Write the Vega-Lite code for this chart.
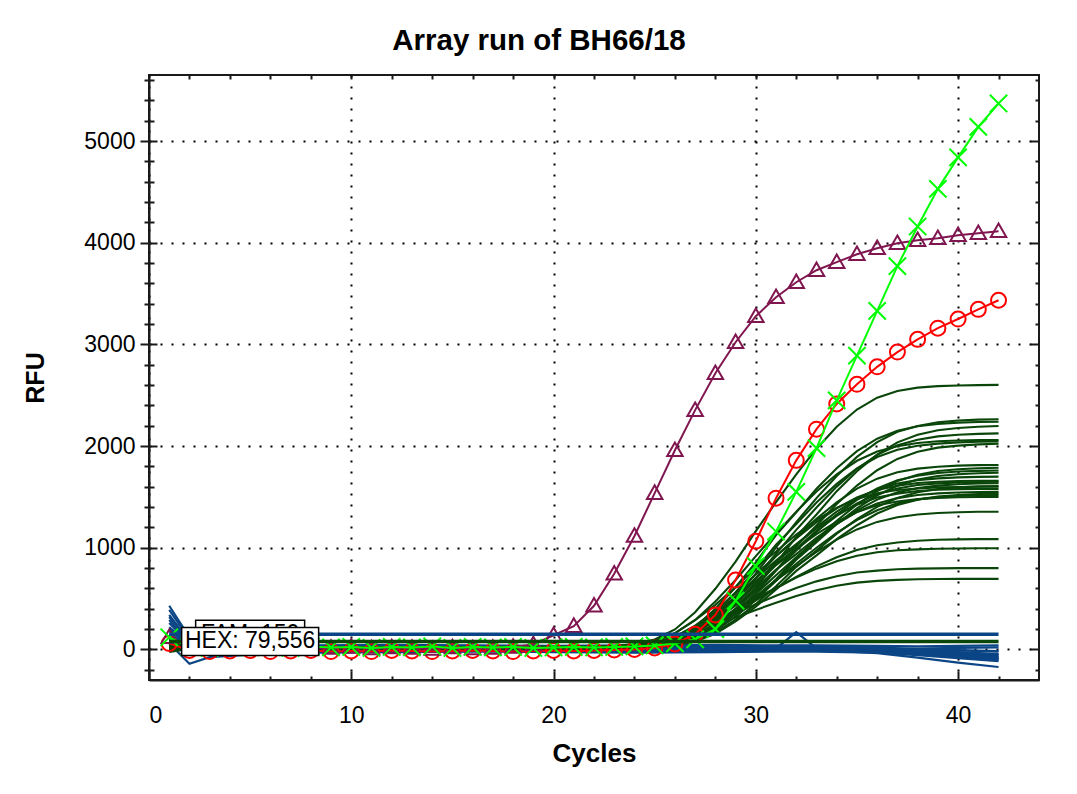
{
"$schema": "https://vega.github.io/schema/vega-lite/v6.json",
"width": 890, "height": 605,
"autosize": {"type": "none"},
"padding": {"left": 149, "top": 75, "right": 38, "bottom": 114},
"background": "white",
"title": {"text": "Array run of BH66/18", "font": "Liberation Sans", "fontSize": 29.5, "fontWeight": "bold", "color": "black", "anchor": "middle", "dx": -55, "offset": 18},
"config": {
  "font": "Liberation Sans",
  "view": {"stroke": "#1a1a1a", "strokeWidth": 2},
  "axis": {"labelFont": "Liberation Sans", "titleFont": "Liberation Sans", "labelColor": "black", "titleColor": "black", "tickColor": "#1a1a1a", "domainColor": "#1a1a1a", "tickWidth": 2, "domainWidth": 2, "grid": false}
},
"datasets": {
"blue": [
{"s":"b1","c":1,"v":430},{"s":"b1","c":2,"v":120},{"s":"b1","c":3,"v":30},{"s":"b1","c":5,"v":10},{"s":"b1","c":8,"v":5},{"s":"b1","c":12,"v":0},{"s":"b1","c":16,"v":5},{"s":"b1","c":20,"v":10},{"s":"b1","c":24,"v":5},{"s":"b1","c":28,"v":0},{"s":"b1","c":31,"v":5},{"s":"b1","c":32,"v":5},{"s":"b1","c":33,"v":5},{"s":"b1","c":36,"v":0},{"s":"b1","c":38,"v":-20},{"s":"b1","c":40,"v":-40},{"s":"b1","c":42,"v":-60},
{"s":"b2","c":1,"v":390},{"s":"b2","c":2,"v":100},{"s":"b2","c":3,"v":20},{"s":"b2","c":5,"v":5},{"s":"b2","c":8,"v":0},{"s":"b2","c":12,"v":5},{"s":"b2","c":16,"v":10},{"s":"b2","c":20,"v":5},{"s":"b2","c":24,"v":0},{"s":"b2","c":28,"v":5},{"s":"b2","c":31,"v":10},{"s":"b2","c":32,"v":170},{"s":"b2","c":33,"v":10},{"s":"b2","c":36,"v":5},{"s":"b2","c":38,"v":-10},{"s":"b2","c":40,"v":-30},{"s":"b2","c":42,"v":-50},
{"s":"b3","c":1,"v":340},{"s":"b3","c":2,"v":80},{"s":"b3","c":3,"v":15},{"s":"b3","c":5,"v":0},{"s":"b3","c":8,"v":-5},{"s":"b3","c":12,"v":0},{"s":"b3","c":16,"v":5},{"s":"b3","c":20,"v":0},{"s":"b3","c":24,"v":-5},{"s":"b3","c":28,"v":0},{"s":"b3","c":31,"v":0},{"s":"b3","c":32,"v":0},{"s":"b3","c":33,"v":0},{"s":"b3","c":36,"v":-10},{"s":"b3","c":38,"v":-40},{"s":"b3","c":40,"v":-70},{"s":"b3","c":42,"v":-100},
{"s":"b4","c":1,"v":290},{"s":"b4","c":2,"v":70},{"s":"b4","c":3,"v":10},{"s":"b4","c":5,"v":-5},{"s":"b4","c":8,"v":-10},{"s":"b4","c":12,"v":-5},{"s":"b4","c":16,"v":0},{"s":"b4","c":20,"v":-5},{"s":"b4","c":24,"v":-10},{"s":"b4","c":28,"v":-5},{"s":"b4","c":31,"v":-5},{"s":"b4","c":32,"v":-5},{"s":"b4","c":33,"v":-5},{"s":"b4","c":36,"v":-35},{"s":"b4","c":38,"v":-80},{"s":"b4","c":40,"v":-130},{"s":"b4","c":42,"v":-172},
{"s":"b5","c":1,"v":260},{"s":"b5","c":2,"v":60},{"s":"b5","c":3,"v":5},{"s":"b5","c":5,"v":0},{"s":"b5","c":8,"v":5},{"s":"b5","c":12,"v":10},{"s":"b5","c":16,"v":15},{"s":"b5","c":20,"v":10},{"s":"b5","c":24,"v":5},{"s":"b5","c":28,"v":10},{"s":"b5","c":31,"v":15},{"s":"b5","c":32,"v":15},{"s":"b5","c":33,"v":15},{"s":"b5","c":36,"v":10},{"s":"b5","c":38,"v":0},{"s":"b5","c":40,"v":-10},{"s":"b5","c":42,"v":-20},
{"s":"b6","c":1,"v":220},{"s":"b6","c":2,"v":50},{"s":"b6","c":3,"v":0},{"s":"b6","c":5,"v":-10},{"s":"b6","c":8,"v":-5},{"s":"b6","c":12,"v":0},{"s":"b6","c":16,"v":0},{"s":"b6","c":20,"v":5},{"s":"b6","c":24,"v":0},{"s":"b6","c":28,"v":-5},{"s":"b6","c":31,"v":0},{"s":"b6","c":32,"v":0},{"s":"b6","c":33,"v":0},{"s":"b6","c":36,"v":-5},{"s":"b6","c":38,"v":-20},{"s":"b6","c":40,"v":-45},{"s":"b6","c":42,"v":-80},
{"s":"b7","c":1,"v":180},{"s":"b7","c":2,"v":40},{"s":"b7","c":3,"v":-10},{"s":"b7","c":5,"v":-20},{"s":"b7","c":8,"v":-15},{"s":"b7","c":12,"v":-10},{"s":"b7","c":16,"v":-5},{"s":"b7","c":20,"v":-10},{"s":"b7","c":24,"v":-15},{"s":"b7","c":28,"v":-10},{"s":"b7","c":31,"v":-5},{"s":"b7","c":32,"v":-5},{"s":"b7","c":33,"v":-5},{"s":"b7","c":36,"v":-20},{"s":"b7","c":38,"v":-40},{"s":"b7","c":40,"v":-60},{"s":"b7","c":42,"v":-90},
{"s":"b8","c":1,"v":150},{"s":"b8","c":2,"v":30},{"s":"b8","c":3,"v":20},{"s":"b8","c":5,"v":15},{"s":"b8","c":8,"v":20},{"s":"b8","c":12,"v":25},{"s":"b8","c":16,"v":30},{"s":"b8","c":20,"v":25},{"s":"b8","c":24,"v":20},{"s":"b8","c":28,"v":25},{"s":"b8","c":31,"v":30},{"s":"b8","c":32,"v":30},{"s":"b8","c":33,"v":30},{"s":"b8","c":36,"v":20},{"s":"b8","c":38,"v":5},{"s":"b8","c":40,"v":-5},{"s":"b8","c":42,"v":-15},
{"s":"b9","c":1,"v":120},{"s":"b9","c":2,"v":25},{"s":"b9","c":3,"v":10},{"s":"b9","c":5,"v":5},{"s":"b9","c":8,"v":0},{"s":"b9","c":12,"v":-5},{"s":"b9","c":16,"v":0},{"s":"b9","c":20,"v":5},{"s":"b9","c":24,"v":10},{"s":"b9","c":28,"v":5},{"s":"b9","c":31,"v":0},{"s":"b9","c":32,"v":0},{"s":"b9","c":33,"v":0},{"s":"b9","c":36,"v":5},{"s":"b9","c":38,"v":10},{"s":"b9","c":40,"v":15},{"s":"b9","c":42,"v":20},
{"s":"b10","c":1,"v":90},{"s":"b10","c":2,"v":20},{"s":"b10","c":3,"v":40},{"s":"b10","c":5,"v":35},{"s":"b10","c":8,"v":40},{"s":"b10","c":12,"v":45},{"s":"b10","c":16,"v":40},{"s":"b10","c":20,"v":35},{"s":"b10","c":24,"v":40},{"s":"b10","c":28,"v":45},{"s":"b10","c":31,"v":40},{"s":"b10","c":32,"v":40},{"s":"b10","c":33,"v":40},{"s":"b10","c":36,"v":35},{"s":"b10","c":38,"v":30},{"s":"b10","c":40,"v":35},{"s":"b10","c":42,"v":40},
{"s":"b11","c":1,"v":60},{"s":"b11","c":2,"v":-140},{"s":"b11","c":3,"v":-75},{"s":"b11","c":5,"v":-50},{"s":"b11","c":8,"v":-25},{"s":"b11","c":12,"v":-20},{"s":"b11","c":16,"v":-15},{"s":"b11","c":20,"v":-20},{"s":"b11","c":24,"v":-25},{"s":"b11","c":28,"v":-20},{"s":"b11","c":31,"v":-15},{"s":"b11","c":32,"v":-15},{"s":"b11","c":33,"v":-15},{"s":"b11","c":36,"v":-25},{"s":"b11","c":38,"v":-45},{"s":"b11","c":40,"v":-70},{"s":"b11","c":42,"v":-95},
{"s":"b12","c":1,"v":100},{"s":"b12","c":2,"v":15},{"s":"b12","c":3,"v":25},{"s":"b12","c":5,"v":20},{"s":"b12","c":8,"v":25},{"s":"b12","c":12,"v":20},{"s":"b12","c":16,"v":15},{"s":"b12","c":20,"v":20},{"s":"b12","c":24,"v":25},{"s":"b12","c":28,"v":20},{"s":"b12","c":31,"v":15},{"s":"b12","c":32,"v":15},{"s":"b12","c":33,"v":15},{"s":"b12","c":36,"v":0},{"s":"b12","c":38,"v":-25},{"s":"b12","c":40,"v":-50},{"s":"b12","c":42,"v":-75},
{"s":"b13","c":1,"v":320},{"s":"b13","c":2,"v":90},{"s":"b13","c":3,"v":35},{"s":"b13","c":5,"v":25},{"s":"b13","c":8,"v":15},{"s":"b13","c":12,"v":10},{"s":"b13","c":16,"v":10},{"s":"b13","c":20,"v":15},{"s":"b13","c":24,"v":20},{"s":"b13","c":28,"v":15},{"s":"b13","c":31,"v":10},{"s":"b13","c":32,"v":10},{"s":"b13","c":33,"v":10},{"s":"b13","c":36,"v":5},{"s":"b13","c":38,"v":-5},{"s":"b13","c":40,"v":-25},{"s":"b13","c":42,"v":-45},
{"s":"b14","c":1,"v":200},{"s":"b14","c":2,"v":45},{"s":"b14","c":3,"v":-20},{"s":"b14","c":5,"v":-25},{"s":"b14","c":8,"v":-30},{"s":"b14","c":12,"v":-25},{"s":"b14","c":16,"v":-20},{"s":"b14","c":20,"v":-25},{"s":"b14","c":24,"v":-30},{"s":"b14","c":28,"v":-25},{"s":"b14","c":31,"v":-20},{"s":"b14","c":32,"v":-20},{"s":"b14","c":33,"v":-20},{"s":"b14","c":36,"v":-30},{"s":"b14","c":38,"v":-55},{"s":"b14","c":40,"v":-85},{"s":"b14","c":42,"v":-115}
],
"dkgreen": [
{"s":"d1","c":1,"v":60},{"s":"d1","c":2,"v":30},{"s":"d1","c":6,"v":20},{"s":"d1","c":12,"v":15},{"s":"d1","c":17,"v":20},{"s":"d1","c":22,"v":25},{"s":"d1","c":23,"v":33},{"s":"d1","c":24,"v":54},{"s":"d1","c":25,"v":98},{"s":"d1","c":26,"v":197},{"s":"d1","c":27,"v":366},{"s":"d1","c":28,"v":597},{"s":"d1","c":29,"v":865},{"s":"d1","c":30,"v":1164},{"s":"d1","c":31,"v":1450},{"s":"d1","c":32,"v":1723},{"s":"d1","c":33,"v":1975},{"s":"d1","c":34,"v":2191},{"s":"d1","c":35,"v":2360},{"s":"d1","c":36,"v":2477},{"s":"d1","c":37,"v":2542},{"s":"d1","c":38,"v":2575},{"s":"d1","c":39,"v":2590},{"s":"d1","c":40,"v":2596},{"s":"d1","c":41,"v":2600},{"s":"d1","c":42,"v":2602},
{"s":"d2","c":1,"v":85},{"s":"d2","c":2,"v":25},{"s":"d2","c":6,"v":15},{"s":"d2","c":12,"v":10},{"s":"d2","c":17,"v":15},{"s":"d2","c":22,"v":15},{"s":"d2","c":23,"v":20},{"s":"d2","c":24,"v":26},{"s":"d2","c":25,"v":44},{"s":"d2","c":26,"v":83},{"s":"d2","c":27,"v":168},{"s":"d2","c":28,"v":314},{"s":"d2","c":29,"v":515},{"s":"d2","c":30,"v":746},{"s":"d2","c":31,"v":1005},{"s":"d2","c":32,"v":1253},{"s":"d2","c":33,"v":1489},{"s":"d2","c":34,"v":1707},{"s":"d2","c":35,"v":1894},{"s":"d2","c":36,"v":2040},{"s":"d2","c":37,"v":2141},{"s":"d2","c":38,"v":2198},{"s":"d2","c":39,"v":2234},{"s":"d2","c":40,"v":2252},{"s":"d2","c":41,"v":2261},{"s":"d2","c":42,"v":2265},
{"s":"d3","c":1,"v":40},{"s":"d3","c":2,"v":15},{"s":"d3","c":6,"v":10},{"s":"d3","c":12,"v":5},{"s":"d3","c":17,"v":10},{"s":"d3","c":22,"v":10},{"s":"d3","c":23,"v":17},{"s":"d3","c":24,"v":28},{"s":"d3","c":25,"v":55},{"s":"d3","c":26,"v":110},{"s":"d3","c":27,"v":222},{"s":"d3","c":28,"v":400},{"s":"d3","c":29,"v":612},{"s":"d3","c":30,"v":857},{"s":"d3","c":31,"v":1125},{"s":"d3","c":32,"v":1348},{"s":"d3","c":33,"v":1582},{"s":"d3","c":34,"v":1783},{"s":"d3","c":35,"v":1950},{"s":"d3","c":36,"v":2073},{"s":"d3","c":37,"v":2151},{"s":"d3","c":38,"v":2195},{"s":"d3","c":39,"v":2218},{"s":"d3","c":40,"v":2231},{"s":"d3","c":41,"v":2238},{"s":"d3","c":42,"v":2240},
{"s":"d4","c":1,"v":20},{"s":"d4","c":2,"v":25},{"s":"d4","c":6,"v":20},{"s":"d4","c":12,"v":20},{"s":"d4","c":17,"v":20},{"s":"d4","c":22,"v":20},{"s":"d4","c":23,"v":20},{"s":"d4","c":24,"v":27},{"s":"d4","c":25,"v":37},{"s":"d4","c":26,"v":64},{"s":"d4","c":27,"v":118},{"s":"d4","c":28,"v":227},{"s":"d4","c":29,"v":402},{"s":"d4","c":30,"v":609},{"s":"d4","c":31,"v":848},{"s":"d4","c":32,"v":1110},{"s":"d4","c":33,"v":1328},{"s":"d4","c":34,"v":1557},{"s":"d4","c":35,"v":1753},{"s":"d4","c":36,"v":1917},{"s":"d4","c":37,"v":2037},{"s":"d4","c":38,"v":2113},{"s":"d4","c":39,"v":2156},{"s":"d4","c":40,"v":2178},{"s":"d4","c":41,"v":2191},{"s":"d4","c":42,"v":2198},
{"s":"d5","c":1,"v":-10},{"s":"d5","c":2,"v":20},{"s":"d5","c":6,"v":25},{"s":"d5","c":12,"v":20},{"s":"d5","c":17,"v":25},{"s":"d5","c":22,"v":15},{"s":"d5","c":23,"v":19},{"s":"d5","c":24,"v":26},{"s":"d5","c":25,"v":42},{"s":"d5","c":26,"v":78},{"s":"d5","c":27,"v":159},{"s":"d5","c":28,"v":296},{"s":"d5","c":29,"v":483},{"s":"d5","c":30,"v":701},{"s":"d5","c":31,"v":943},{"s":"d5","c":32,"v":1176},{"s":"d5","c":33,"v":1397},{"s":"d5","c":34,"v":1602},{"s":"d5","c":35,"v":1777},{"s":"d5","c":36,"v":1914},{"s":"d5","c":37,"v":2009},{"s":"d5","c":38,"v":2062},{"s":"d5","c":39,"v":2096},{"s":"d5","c":40,"v":2112},{"s":"d5","c":41,"v":2121},{"s":"d5","c":42,"v":2125},
{"s":"d6","c":1,"v":70},{"s":"d6","c":2,"v":25},{"s":"d6","c":6,"v":15},{"s":"d6","c":12,"v":10},{"s":"d6","c":17,"v":15},{"s":"d6","c":22,"v":15},{"s":"d6","c":23,"v":21},{"s":"d6","c":24,"v":31},{"s":"d6","c":25,"v":56},{"s":"d6","c":26,"v":106},{"s":"d6","c":27,"v":208},{"s":"d6","c":28,"v":370},{"s":"d6","c":29,"v":563},{"s":"d6","c":30,"v":786},{"s":"d6","c":31,"v":1030},{"s":"d6","c":32,"v":1233},{"s":"d6","c":33,"v":1446},{"s":"d6","c":34,"v":1629},{"s":"d6","c":35,"v":1781},{"s":"d6","c":36,"v":1893},{"s":"d6","c":37,"v":1964},{"s":"d6","c":38,"v":2004},{"s":"d6","c":39,"v":2025},{"s":"d6","c":40,"v":2037},{"s":"d6","c":41,"v":2043},{"s":"d6","c":42,"v":2045},
{"s":"d7","c":1,"v":30},{"s":"d7","c":2,"v":10},{"s":"d7","c":6,"v":10},{"s":"d7","c":12,"v":5},{"s":"d7","c":17,"v":10},{"s":"d7","c":22,"v":10},{"s":"d7","c":23,"v":10},{"s":"d7","c":24,"v":16},{"s":"d7","c":25,"v":26},{"s":"d7","c":26,"v":50},{"s":"d7","c":27,"v":101},{"s":"d7","c":28,"v":201},{"s":"d7","c":29,"v":363},{"s":"d7","c":30,"v":554},{"s":"d7","c":31,"v":776},{"s":"d7","c":32,"v":1018},{"s":"d7","c":33,"v":1219},{"s":"d7","c":34,"v":1431},{"s":"d7","c":35,"v":1612},{"s":"d7","c":36,"v":1763},{"s":"d7","c":37,"v":1874},{"s":"d7","c":38,"v":1944},{"s":"d7","c":39,"v":1985},{"s":"d7","c":40,"v":2005},{"s":"d7","c":41,"v":2017},{"s":"d7","c":42,"v":2023},
{"s":"d8","c":1,"v":90},{"s":"d8","c":2,"v":30},{"s":"d8","c":6,"v":20},{"s":"d8","c":12,"v":20},{"s":"d8","c":17,"v":20},{"s":"d8","c":22,"v":20},{"s":"d8","c":23,"v":25},{"s":"d8","c":24,"v":34},{"s":"d8","c":25,"v":56},{"s":"d8","c":26,"v":101},{"s":"d8","c":27,"v":191},{"s":"d8","c":28,"v":334},{"s":"d8","c":29,"v":505},{"s":"d8","c":30,"v":702},{"s":"d8","c":31,"v":918},{"s":"d8","c":32,"v":1097},{"s":"d8","c":33,"v":1286},{"s":"d8","c":34,"v":1447},{"s":"d8","c":35,"v":1582},{"s":"d8","c":36,"v":1680},{"s":"d8","c":37,"v":1743},{"s":"d8","c":38,"v":1779},{"s":"d8","c":39,"v":1797},{"s":"d8","c":40,"v":1808},{"s":"d8","c":41,"v":1813},{"s":"d8","c":42,"v":1815},
{"s":"d9","c":1,"v":50},{"s":"d9","c":2,"v":20},{"s":"d9","c":6,"v":15},{"s":"d9","c":12,"v":10},{"s":"d9","c":17,"v":15},{"s":"d9","c":22,"v":15},{"s":"d9","c":23,"v":15},{"s":"d9","c":24,"v":20},{"s":"d9","c":25,"v":29},{"s":"d9","c":26,"v":51},{"s":"d9","c":27,"v":95},{"s":"d9","c":28,"v":184},{"s":"d9","c":29,"v":326},{"s":"d9","c":30,"v":494},{"s":"d9","c":31,"v":690},{"s":"d9","c":32,"v":903},{"s":"d9","c":33,"v":1080},{"s":"d9","c":34,"v":1266},{"s":"d9","c":35,"v":1426},{"s":"d9","c":36,"v":1559},{"s":"d9","c":37,"v":1657},{"s":"d9","c":38,"v":1719},{"s":"d9","c":39,"v":1755},{"s":"d9","c":40,"v":1772},{"s":"d9","c":41,"v":1783},{"s":"d9","c":42,"v":1788},
{"s":"d10","c":1,"v":-25},{"s":"d10","c":2,"v":5},{"s":"d10","c":6,"v":10},{"s":"d10","c":12,"v":5},{"s":"d10","c":17,"v":10},{"s":"d10","c":22,"v":10},{"s":"d10","c":23,"v":14},{"s":"d10","c":24,"v":19},{"s":"d10","c":25,"v":33},{"s":"d10","c":26,"v":63},{"s":"d10","c":27,"v":129},{"s":"d10","c":28,"v":243},{"s":"d10","c":29,"v":399},{"s":"d10","c":30,"v":579},{"s":"d10","c":31,"v":780},{"s":"d10","c":32,"v":973},{"s":"d10","c":33,"v":1156},{"s":"d10","c":34,"v":1326},{"s":"d10","c":35,"v":1471},{"s":"d10","c":36,"v":1585},{"s":"d10","c":37,"v":1664},{"s":"d10","c":38,"v":1708},{"s":"d10","c":39,"v":1736},{"s":"d10","c":40,"v":1750},{"s":"d10","c":41,"v":1757},{"s":"d10","c":42,"v":1760},
{"s":"d11","c":1,"v":10},{"s":"d11","c":2,"v":30},{"s":"d11","c":6,"v":25},{"s":"d11","c":12,"v":25},{"s":"d11","c":17,"v":25},{"s":"d11","c":22,"v":25},{"s":"d11","c":23,"v":25},{"s":"d11","c":24,"v":30},{"s":"d11","c":25,"v":39},{"s":"d11","c":26,"v":59},{"s":"d11","c":27,"v":102},{"s":"d11","c":28,"v":188},{"s":"d11","c":29,"v":325},{"s":"d11","c":30,"v":488},{"s":"d11","c":31,"v":677},{"s":"d11","c":32,"v":883},{"s":"d11","c":33,"v":1054},{"s":"d11","c":34,"v":1234},{"s":"d11","c":35,"v":1388},{"s":"d11","c":36,"v":1517},{"s":"d11","c":37,"v":1611},{"s":"d11","c":38,"v":1671},{"s":"d11","c":39,"v":1706},{"s":"d11","c":40,"v":1723},{"s":"d11","c":41,"v":1733},{"s":"d11","c":42,"v":1738},
{"s":"d12","c":1,"v":65},{"s":"d12","c":2,"v":15},{"s":"d12","c":6,"v":10},{"s":"d12","c":12,"v":5},{"s":"d12","c":17,"v":10},{"s":"d12","c":22,"v":10},{"s":"d12","c":23,"v":15},{"s":"d12","c":24,"v":23},{"s":"d12","c":25,"v":43},{"s":"d12","c":26,"v":84},{"s":"d12","c":27,"v":166},{"s":"d12","c":28,"v":297},{"s":"d12","c":29,"v":453},{"s":"d12","c":30,"v":633},{"s":"d12","c":31,"v":830},{"s":"d12","c":32,"v":994},{"s":"d12","c":33,"v":1166},{"s":"d12","c":34,"v":1314},{"s":"d12","c":35,"v":1437},{"s":"d12","c":36,"v":1527},{"s":"d12","c":37,"v":1584},{"s":"d12","c":38,"v":1617},{"s":"d12","c":39,"v":1634},{"s":"d12","c":40,"v":1643},{"s":"d12","c":41,"v":1648},{"s":"d12","c":42,"v":1650},
{"s":"d13","c":1,"v":35},{"s":"d13","c":2,"v":25},{"s":"d13","c":6,"v":20},{"s":"d13","c":12,"v":15},{"s":"d13","c":17,"v":20},{"s":"d13","c":22,"v":20},{"s":"d13","c":23,"v":23},{"s":"d13","c":24,"v":28},{"s":"d13","c":25,"v":41},{"s":"d13","c":26,"v":68},{"s":"d13","c":27,"v":130},{"s":"d13","c":28,"v":235},{"s":"d13","c":29,"v":379},{"s":"d13","c":30,"v":545},{"s":"d13","c":31,"v":731},{"s":"d13","c":32,"v":908},{"s":"d13","c":33,"v":1078},{"s":"d13","c":34,"v":1234},{"s":"d13","c":35,"v":1368},{"s":"d13","c":36,"v":1474},{"s":"d13","c":37,"v":1546},{"s":"d13","c":38,"v":1587},{"s":"d13","c":39,"v":1612},{"s":"d13","c":40,"v":1625},{"s":"d13","c":41,"v":1632},{"s":"d13","c":42,"v":1635},
{"s":"d14","c":1,"v":80},{"s":"d14","c":2,"v":20},{"s":"d14","c":6,"v":15},{"s":"d14","c":12,"v":15},{"s":"d14","c":17,"v":15},{"s":"d14","c":22,"v":15},{"s":"d14","c":23,"v":15},{"s":"d14","c":24,"v":20},{"s":"d14","c":25,"v":28},{"s":"d14","c":26,"v":47},{"s":"d14","c":27,"v":87},{"s":"d14","c":28,"v":167},{"s":"d14","c":29,"v":294},{"s":"d14","c":30,"v":446},{"s":"d14","c":31,"v":621},{"s":"d14","c":32,"v":813},{"s":"d14","c":33,"v":972},{"s":"d14","c":34,"v":1139},{"s":"d14","c":35,"v":1283},{"s":"d14","c":36,"v":1403},{"s":"d14","c":37,"v":1490},{"s":"d14","c":38,"v":1546},{"s":"d14","c":39,"v":1578},{"s":"d14","c":40,"v":1594},{"s":"d14","c":41,"v":1604},{"s":"d14","c":42,"v":1608},
{"s":"d15","c":1,"v":45},{"s":"d15","c":2,"v":15},{"s":"d15","c":6,"v":10},{"s":"d15","c":12,"v":10},{"s":"d15","c":17,"v":10},{"s":"d15","c":22,"v":13},{"s":"d15","c":23,"v":18},{"s":"d15","c":24,"v":30},{"s":"d15","c":25,"v":57},{"s":"d15","c":26,"v":117},{"s":"d15","c":27,"v":219},{"s":"d15","c":28,"v":359},{"s":"d15","c":29,"v":520},{"s":"d15","c":30,"v":701},{"s":"d15","c":31,"v":874},{"s":"d15","c":32,"v":1038},{"s":"d15","c":33,"v":1191},{"s":"d15","c":34,"v":1321},{"s":"d15","c":35,"v":1423},{"s":"d15","c":36,"v":1494},{"s":"d15","c":37,"v":1533},{"s":"d15","c":38,"v":1558},{"s":"d15","c":39,"v":1571},{"s":"d15","c":40,"v":1577},{"s":"d15","c":41,"v":1580},{"s":"d15","c":42,"v":1580},
{"s":"d16","c":1,"v":0},{"s":"d16","c":2,"v":20},{"s":"d16","c":6,"v":20},{"s":"d16","c":12,"v":15},{"s":"d16","c":17,"v":20},{"s":"d16","c":22,"v":20},{"s":"d16","c":23,"v":25},{"s":"d16","c":24,"v":32},{"s":"d16","c":25,"v":51},{"s":"d16","c":26,"v":89},{"s":"d16","c":27,"v":165},{"s":"d16","c":28,"v":288},{"s":"d16","c":29,"v":433},{"s":"d16","c":30,"v":601},{"s":"d16","c":31,"v":785},{"s":"d16","c":32,"v":938},{"s":"d16","c":33,"v":1099},{"s":"d16","c":34,"v":1236},{"s":"d16","c":35,"v":1351},{"s":"d16","c":36,"v":1435},{"s":"d16","c":37,"v":1489},{"s":"d16","c":38,"v":1519},{"s":"d16","c":39,"v":1535},{"s":"d16","c":40,"v":1544},{"s":"d16","c":41,"v":1548},{"s":"d16","c":42,"v":1550},
{"s":"d17","c":1,"v":55},{"s":"d17","c":2,"v":15},{"s":"d17","c":6,"v":10},{"s":"d17","c":12,"v":5},{"s":"d17","c":17,"v":10},{"s":"d17","c":22,"v":10},{"s":"d17","c":23,"v":10},{"s":"d17","c":24,"v":15},{"s":"d17","c":25,"v":22},{"s":"d17","c":26,"v":41},{"s":"d17","c":27,"v":79},{"s":"d17","c":28,"v":155},{"s":"d17","c":29,"v":277},{"s":"d17","c":30,"v":422},{"s":"d17","c":31,"v":590},{"s":"d17","c":32,"v":773},{"s":"d17","c":33,"v":925},{"s":"d17","c":34,"v":1085},{"s":"d17","c":35,"v":1222},{"s":"d17","c":36,"v":1337},{"s":"d17","c":37,"v":1421},{"s":"d17","c":38,"v":1474},{"s":"d17","c":39,"v":1505},{"s":"d17","c":40,"v":1520},{"s":"d17","c":41,"v":1529},{"s":"d17","c":42,"v":1534},
{"s":"d18","c":1,"v":25},{"s":"d18","c":2,"v":20},{"s":"d18","c":6,"v":15},{"s":"d18","c":12,"v":10},{"s":"d18","c":17,"v":15},{"s":"d18","c":22,"v":15},{"s":"d18","c":23,"v":18},{"s":"d18","c":24,"v":23},{"s":"d18","c":25,"v":35},{"s":"d18","c":26,"v":60},{"s":"d18","c":27,"v":117},{"s":"d18","c":28,"v":215},{"s":"d18","c":29,"v":349},{"s":"d18","c":30,"v":504},{"s":"d18","c":31,"v":677},{"s":"d18","c":32,"v":843},{"s":"d18","c":33,"v":1001},{"s":"d18","c":34,"v":1147},{"s":"d18","c":35,"v":1272},{"s":"d18","c":36,"v":1370},{"s":"d18","c":37,"v":1437},{"s":"d18","c":38,"v":1475},{"s":"d18","c":39,"v":1499},{"s":"d18","c":40,"v":1511},{"s":"d18","c":41,"v":1517},{"s":"d18","c":42,"v":1520},
{"s":"d19","c":1,"v":75},{"s":"d19","c":2,"v":35},{"s":"d19","c":6,"v":25},{"s":"d19","c":12,"v":20},{"s":"d19","c":17,"v":25},{"s":"d19","c":22,"v":28},{"s":"d19","c":23,"v":32},{"s":"d19","c":24,"v":44},{"s":"d19","c":25,"v":69},{"s":"d19","c":26,"v":125},{"s":"d19","c":27,"v":221},{"s":"d19","c":28,"v":353},{"s":"d19","c":29,"v":504},{"s":"d19","c":30,"v":674},{"s":"d19","c":31,"v":836},{"s":"d19","c":32,"v":991},{"s":"d19","c":33,"v":1134},{"s":"d19","c":34,"v":1257},{"s":"d19","c":35,"v":1353},{"s":"d19","c":36,"v":1419},{"s":"d19","c":37,"v":1456},{"s":"d19","c":38,"v":1479},{"s":"d19","c":39,"v":1491},{"s":"d19","c":40,"v":1497},{"s":"d19","c":41,"v":1500},{"s":"d19","c":42,"v":1500},
{"s":"d20","c":1,"v":-5},{"s":"d20","c":2,"v":15},{"s":"d20","c":6,"v":15},{"s":"d20","c":12,"v":10},{"s":"d20","c":17,"v":15},{"s":"d20","c":22,"v":15},{"s":"d20","c":23,"v":19},{"s":"d20","c":24,"v":26},{"s":"d20","c":25,"v":42},{"s":"d20","c":26,"v":75},{"s":"d20","c":27,"v":142},{"s":"d20","c":28,"v":250},{"s":"d20","c":29,"v":377},{"s":"d20","c":30,"v":524},{"s":"d20","c":31,"v":685},{"s":"d20","c":32,"v":819},{"s":"d20","c":33,"v":960},{"s":"d20","c":34,"v":1080},{"s":"d20","c":35,"v":1181},{"s":"d20","c":36,"v":1255},{"s":"d20","c":37,"v":1301},{"s":"d20","c":38,"v":1328},{"s":"d20","c":39,"v":1342},{"s":"d20","c":40,"v":1350},{"s":"d20","c":41,"v":1354},{"s":"d20","c":42,"v":1355},
{"s":"d21","c":1,"v":15},{"s":"d21","c":2,"v":15},{"s":"d21","c":6,"v":10},{"s":"d21","c":12,"v":10},{"s":"d21","c":17,"v":10},{"s":"d21","c":22,"v":12},{"s":"d21","c":23,"v":15},{"s":"d21","c":24,"v":24},{"s":"d21","c":25,"v":42},{"s":"d21","c":26,"v":83},{"s":"d21","c":27,"v":153},{"s":"d21","c":28,"v":249},{"s":"d21","c":29,"v":359},{"s":"d21","c":30,"v":483},{"s":"d21","c":31,"v":601},{"s":"d21","c":32,"v":714},{"s":"d21","c":33,"v":818},{"s":"d21","c":34,"v":908},{"s":"d21","c":35,"v":978},{"s":"d21","c":36,"v":1026},{"s":"d21","c":37,"v":1053},{"s":"d21","c":38,"v":1070},{"s":"d21","c":39,"v":1079},{"s":"d21","c":40,"v":1083},{"s":"d21","c":41,"v":1085},{"s":"d21","c":42,"v":1085},
{"s":"d22","c":1,"v":95},{"s":"d22","c":2,"v":30},{"s":"d22","c":6,"v":20},{"s":"d22","c":12,"v":15},{"s":"d22","c":17,"v":20},{"s":"d22","c":22,"v":23},{"s":"d22","c":23,"v":28},{"s":"d22","c":24,"v":40},{"s":"d22","c":25,"v":64},{"s":"d22","c":26,"v":113},{"s":"d22","c":27,"v":191},{"s":"d22","c":28,"v":283},{"s":"d22","c":29,"v":391},{"s":"d22","c":30,"v":508},{"s":"d22","c":31,"v":605},{"s":"d22","c":32,"v":707},{"s":"d22","c":33,"v":795},{"s":"d22","c":34,"v":868},{"s":"d22","c":35,"v":922},{"s":"d22","c":36,"v":956},{"s":"d22","c":37,"v":976},{"s":"d22","c":38,"v":985},{"s":"d22","c":39,"v":991},{"s":"d22","c":40,"v":994},{"s":"d22","c":41,"v":995},{"s":"d22","c":42,"v":995},
{"s":"d23","c":1,"v":60},{"s":"d23","c":2,"v":15},{"s":"d23","c":6,"v":10},{"s":"d23","c":12,"v":5},{"s":"d23","c":17,"v":10},{"s":"d23","c":22,"v":14},{"s":"d23","c":23,"v":20},{"s":"d23","c":24,"v":34},{"s":"d23","c":25,"v":64},{"s":"d23","c":26,"v":115},{"s":"d23","c":27,"v":185},{"s":"d23","c":28,"v":267},{"s":"d23","c":29,"v":358},{"s":"d23","c":30,"v":445},{"s":"d23","c":31,"v":528},{"s":"d23","c":32,"v":604},{"s":"d23","c":33,"v":670},{"s":"d23","c":34,"v":721},{"s":"d23","c":35,"v":757},{"s":"d23","c":36,"v":776},{"s":"d23","c":37,"v":789},{"s":"d23","c":38,"v":795},{"s":"d23","c":39,"v":798},{"s":"d23","c":40,"v":800},{"s":"d23","c":41,"v":800},{"s":"d23","c":42,"v":800},
{"s":"d24","c":1,"v":40},{"s":"d24","c":2,"v":20},{"s":"d24","c":6,"v":15},{"s":"d24","c":12,"v":10},{"s":"d24","c":17,"v":15},{"s":"d24","c":22,"v":18},{"s":"d24","c":23,"v":24},{"s":"d24","c":24,"v":35},{"s":"d24","c":25,"v":61},{"s":"d24","c":26,"v":105},{"s":"d24","c":27,"v":166},{"s":"d24","c":28,"v":236},{"s":"d24","c":29,"v":314},{"s":"d24","c":30,"v":389},{"s":"d24","c":31,"v":460},{"s":"d24","c":32,"v":526},{"s":"d24","c":33,"v":583},{"s":"d24","c":34,"v":627},{"s":"d24","c":35,"v":658},{"s":"d24","c":36,"v":675},{"s":"d24","c":37,"v":685},{"s":"d24","c":38,"v":691},{"s":"d24","c":39,"v":694},{"s":"d24","c":40,"v":695},{"s":"d24","c":41,"v":695},{"s":"d24","c":42,"v":695},
{"s":"d25","c":1,"v":5},{"s":"d25","c":2,"v":20},{"s":"d25","c":6,"v":15},{"s":"d25","c":12,"v":15},{"s":"d25","c":17,"v":15},{"s":"d25","c":22,"v":18},{"s":"d25","c":23,"v":23},{"s":"d25","c":24,"v":36},{"s":"d25","c":25,"v":64},{"s":"d25","c":26,"v":127},{"s":"d25","c":27,"v":234},{"s":"d25","c":28,"v":380},{"s":"d25","c":29,"v":550},{"s":"d25","c":30,"v":739},{"s":"d25","c":31,"v":920},{"s":"d25","c":32,"v":1093},{"s":"d25","c":33,"v":1252},{"s":"d25","c":34,"v":1389},{"s":"d25","c":35,"v":1496},{"s":"d25","c":36,"v":1570},{"s":"d25","c":37,"v":1611},{"s":"d25","c":38,"v":1637},{"s":"d25","c":39,"v":1650},{"s":"d25","c":40,"v":1657},{"s":"d25","c":41,"v":1660},{"s":"d25","c":42,"v":1660},
{"s":"d26","c":1,"v":70},{"s":"d26","c":2,"v":15},{"s":"d26","c":6,"v":10},{"s":"d26","c":12,"v":5},{"s":"d26","c":17,"v":10},{"s":"d26","c":22,"v":15},{"s":"d26","c":23,"v":23},{"s":"d26","c":24,"v":42},{"s":"d26","c":25,"v":82},{"s":"d26","c":26,"v":161},{"s":"d26","c":27,"v":288},{"s":"d26","c":28,"v":439},{"s":"d26","c":29,"v":614},{"s":"d26","c":30,"v":805},{"s":"d26","c":31,"v":964},{"s":"d26","c":32,"v":1131},{"s":"d26","c":33,"v":1274},{"s":"d26","c":34,"v":1393},{"s":"d26","c":35,"v":1481},{"s":"d26","c":36,"v":1536},{"s":"d26","c":37,"v":1568},{"s":"d26","c":38,"v":1584},{"s":"d26","c":39,"v":1594},{"s":"d26","c":40,"v":1598},{"s":"d26","c":41,"v":1600},{"s":"d26","c":42,"v":1600},
{"s":"d27","c":1,"v":30},{"s":"d27","c":2,"v":25},{"s":"d27","c":6,"v":20},{"s":"d27","c":12,"v":15},{"s":"d27","c":17,"v":20},{"s":"d27","c":22,"v":24},{"s":"d27","c":23,"v":30},{"s":"d27","c":24,"v":47},{"s":"d27","c":25,"v":81},{"s":"d27","c":26,"v":159},{"s":"d27","c":27,"v":291},{"s":"d27","c":28,"v":473},{"s":"d27","c":29,"v":683},{"s":"d27","c":30,"v":918},{"s":"d27","c":31,"v":1142},{"s":"d27","c":32,"v":1356},{"s":"d27","c":33,"v":1554},{"s":"d27","c":34,"v":1723},{"s":"d27","c":35,"v":1856},{"s":"d27","c":36,"v":1948},{"s":"d27","c":37,"v":1999},{"s":"d27","c":38,"v":2031},{"s":"d27","c":39,"v":2048},{"s":"d27","c":40,"v":2056},{"s":"d27","c":41,"v":2060},{"s":"d27","c":42,"v":2060},
{"s":"d28","c":1,"v":50},{"s":"d28","c":2,"v":20},{"s":"d28","c":6,"v":15},{"s":"d28","c":12,"v":10},{"s":"d28","c":17,"v":15},{"s":"d28","c":22,"v":15},{"s":"d28","c":23,"v":20},{"s":"d28","c":24,"v":29},{"s":"d28","c":25,"v":49},{"s":"d28","c":26,"v":91},{"s":"d28","c":27,"v":175},{"s":"d28","c":28,"v":310},{"s":"d28","c":29,"v":470},{"s":"d28","c":30,"v":655},{"s":"d28","c":31,"v":858},{"s":"d28","c":32,"v":1026},{"s":"d28","c":33,"v":1203},{"s":"d28","c":34,"v":1355},{"s":"d28","c":35,"v":1481},{"s":"d28","c":36,"v":1574},{"s":"d28","c":37,"v":1633},{"s":"d28","c":38,"v":1666},{"s":"d28","c":39,"v":1683},{"s":"d28","c":40,"v":1693},{"s":"d28","c":41,"v":1698},{"s":"d28","c":42,"v":1700}
],
"red": [
{"c":1,"v":60},{"c":2,"v":-10},{"c":3,"v":-20},{"c":4,"v":-15},{"c":5,"v":-10},{"c":6,"v":-20},{"c":7,"v":-15},{"c":8,"v":-10},{"c":9,"v":-20},{"c":10,"v":-15},{"c":11,"v":-20},{"c":12,"v":-10},{"c":13,"v":-15},{"c":14,"v":-20},{"c":15,"v":-15},{"c":16,"v":-10},{"c":17,"v":-15},{"c":18,"v":-20},{"c":19,"v":-15},{"c":20,"v":-10},{"c":21,"v":-15},{"c":22,"v":-10},{"c":23,"v":-5},{"c":24,"v":0},{"c":25,"v":15},{"c":26,"v":55},{"c":27,"v":150},{"c":28,"v":340},{"c":29,"v":683},{"c":30,"v":1065},{"c":31,"v":1488},{"c":32,"v":1860},{"c":33,"v":2167},{"c":34,"v":2415},{"c":35,"v":2608},{"c":36,"v":2780},{"c":37,"v":2925},{"c":38,"v":3050},{"c":39,"v":3160},{"c":40,"v":3250},{"c":41,"v":3345},{"c":42,"v":3435}
],
"lime": [
{"c":1,"v":120},{"c":2,"v":25},{"c":3,"v":15},{"c":4,"v":30},{"c":5,"v":20},{"c":6,"v":25},{"c":7,"v":15},{"c":8,"v":30},{"c":9,"v":20},{"c":10,"v":25},{"c":11,"v":15},{"c":12,"v":25},{"c":13,"v":20},{"c":14,"v":30},{"c":15,"v":15},{"c":16,"v":25},{"c":17,"v":20},{"c":18,"v":25},{"c":19,"v":15},{"c":20,"v":20},{"c":21,"v":25},{"c":22,"v":20},{"c":23,"v":25},{"c":24,"v":30},{"c":25,"v":40},{"c":26,"v":60},{"c":27,"v":100},{"c":28,"v":200},{"c":29,"v":480},{"c":30,"v":820},{"c":31,"v":1160},{"c":32,"v":1550},{"c":33,"v":1980},{"c":34,"v":2450},{"c":35,"v":2890},{"c":36,"v":3330},{"c":37,"v":3770},{"c":38,"v":4160},{"c":39,"v":4530},{"c":40,"v":4840},{"c":41,"v":5140},{"c":42,"v":5370}
],
"purple": [
{"c":1,"v":120},{"c":2,"v":20},{"c":3,"v":10},{"c":4,"v":25},{"c":5,"v":15},{"c":6,"v":5},{"c":7,"v":20},{"c":8,"v":10},{"c":9,"v":15},{"c":10,"v":25},{"c":11,"v":10},{"c":12,"v":20},{"c":13,"v":15},{"c":14,"v":5},{"c":15,"v":20},{"c":16,"v":10},{"c":17,"v":15},{"c":18,"v":25},{"c":19,"v":50},{"c":20,"v":140},{"c":21,"v":230},{"c":22,"v":430},{"c":23,"v":745},{"c":24,"v":1116},{"c":25,"v":1538},{"c":26,"v":1960},{"c":27,"v":2354},{"c":28,"v":2717},{"c":29,"v":3022},{"c":30,"v":3278},{"c":31,"v":3464},{"c":32,"v":3612},{"c":33,"v":3730},{"c":34,"v":3809},{"c":35,"v":3887},{"c":36,"v":3946},{"c":37,"v":3996},{"c":38,"v":4025},{"c":39,"v":4045},{"c":40,"v":4074},{"c":41,"v":4094},{"c":42,"v":4114}
],
"thresh": [
{"ch":"FAM","v":150,"label":"FAM: 150"},
{"ch":"HEX","v":79.556,"label":"HEX: 79,556"}
]
},
"resolve": {"axis": {"x": "independent", "y": "independent"}},
"layer": [
{
 "data": {"name": "blue"},
 "mark": {"type": "line", "color": "#0B4585", "strokeWidth": 2.2},
 "encoding": {
  "x": {"field": "c", "type": "quantitative", "scale": {"domain": [0, 44], "nice": false, "zero": false},
        "axis": {"orient": "bottom", "values": [0, 10, 20, 30, 40], "format": "d", "title": "Cycles", "grid": true, "gridColor": "black", "gridDash": [2, 9], "gridWidth": 2, "gridOpacity": 1, "tickSize": -9, "labelFontSize": 23, "labelPadding": 33, "titleFontSize": 26, "titleFontWeight": "bold", "titlePadding": 13}},
  "y": {"field": "v", "type": "quantitative", "scale": {"domain": [-300, 5650], "nice": false, "zero": false},
        "axis": {"orient": "left", "values": [0, 1000, 2000, 3000, 4000, 5000], "format": "d", "title": "RFU", "grid": true, "gridColor": "black", "gridDash": [2, 9], "gridWidth": 2, "gridOpacity": 1, "tickSize": 9, "labelFontSize": 23, "labelPadding": 5, "titleFontSize": 25, "titleFontWeight": "bold", "titlePadding": 35}},
  "detail": {"field": "s"}
 }
},
{
 "data": {"name": "dkgreen"},
 "mark": {"type": "line", "color": "#0A460A", "strokeWidth": 2.1},
 "encoding": {
  "x": {"field": "c", "type": "quantitative", "axis": {"orient": "bottom", "values": [2,4,6,8,12,14,16,18,22,24,26,28,32,34,36,38,42], "labels": false, "title": null, "domain": false, "grid": false, "tickSize": -4}},
  "y": {"field": "v", "type": "quantitative", "axis": {"orient": "left", "values": [-200,200,400,600,800,1200,1400,1600,1800,2200,2400,2600,2800,3200,3400,3600,3800,4200,4400,4600,4800,5200,5400,5600], "labels": false, "title": null, "domain": false, "grid": false, "tickSize": 5}},
  "detail": {"field": "s"}
 }
},
{
 "data": {"name": "red"},
 "mark": {"type": "line", "color": "#FF0000", "strokeWidth": 2},
 "encoding": {
  "x": {"field": "c", "type": "quantitative", "axis": {"orient": "top", "values": [2,4,6,8,10,12,14,16,18,20,22,24,26,28,30,32,34,36,38,40,42], "labels": false, "title": null, "domain": false, "grid": false, "tickSize": -4}},
  "y": {"field": "v", "type": "quantitative", "axis": {"orient": "right", "values": [-200,200,400,600,800,1200,1400,1600,1800,2200,2400,2600,2800,3200,3400,3600,3800,4200,4400,4600,4800,5200,5400,5600], "labels": false, "title": null, "domain": false, "grid": false, "tickSize": -4}}
 }
},
{
 "data": {"name": "red"},
 "mark": {"type": "point", "shape": "circle", "filled": false, "color": "#FF0000", "strokeWidth": 2, "size": 225, "opacity": 1},
 "encoding": {
  "x": {"field": "c", "type": "quantitative", "axis": null},
  "y": {"field": "v", "type": "quantitative", "axis": {"orient": "left", "values": [-200,200,400,600,800,1200,1400,1600,1800,2200,2400,2600,2800,3200,3400,3600,3800,4200,4400,4600,4800,5200,5400,5600], "labels": false, "title": null, "domain": false, "grid": false, "tickSize": -5}}
 }
},
{
 "data": {"name": "purple"},
 "mark": {"type": "line", "color": "#801650", "strokeWidth": 2},
 "encoding": {
  "x": {"field": "c", "type": "quantitative", "axis": null},
  "y": {"field": "v", "type": "quantitative", "axis": {"orient": "left", "values": [0,1000,2000,3000,4000,5000], "labels": false, "title": null, "domain": false, "grid": false, "tickSize": -8}}
 }
},
{
 "data": {"name": "purple"},
 "mark": {"type": "point", "shape": "M0,-1L1,0.75L-1,0.75Z", "filled": false, "color": "#801650", "strokeWidth": 2, "size": 240, "opacity": 1},
 "encoding": {
  "x": {"field": "c", "type": "quantitative", "axis": null},
  "y": {"field": "v", "type": "quantitative", "axis": {"orient": "right", "values": [0,1000,2000,3000,4000,5000], "labels": false, "title": null, "domain": false, "grid": false, "tickSize": -9}}
 }
},
{
 "data": {"name": "lime"},
 "mark": {"type": "line", "color": "#00FF00", "strokeWidth": 2},
 "encoding": {
  "x": {"field": "c", "type": "quantitative", "axis": null},
  "y": {"field": "v", "type": "quantitative", "axis": null}
 }
},
{
 "data": {"name": "lime"},
 "mark": {"type": "point", "shape": "M-1,-1L1,1M-1,1L1,-1", "filled": false, "color": "#00FF00", "strokeWidth": 2, "size": 300, "opacity": 1},
 "encoding": {
  "x": {"field": "c", "type": "quantitative", "axis": null},
  "y": {"field": "v", "type": "quantitative", "axis": null}
 }
},
{
 "data": {"name": "thresh"},
 "mark": {"type": "rule", "strokeWidth": 3.5},
 "encoding": {
  "x": {"datum": 1, "type": "quantitative", "axis": null},
  "x2": {"datum": 42},
  "y": {"field": "v", "type": "quantitative", "axis": null},
  "color": {"field": "ch", "type": "nominal", "scale": {"domain": ["FAM", "HEX"], "range": ["#0B4585", "#0A460A"]}, "legend": null}
 }
},
{
 "data": {"name": "thresh"},
 "transform": [{"filter": "datum.ch === 'FAM'"}],
 "mark": {"type": "point", "shape": "M-1,-0.257L1,-0.257L1,0.257L-1,0.257Z", "filled": true, "fill": "white", "stroke": "black", "strokeWidth": 1.5, "size": 11881, "opacity": 1},
 "encoding": {
  "x": {"datum": 5, "type": "quantitative", "axis": null},
  "y": {"field": "v", "type": "quantitative", "axis": null}
 }
},
{
 "data": {"name": "thresh"},
 "transform": [{"filter": "datum.ch === 'FAM'"}],
 "mark": {"type": "text", "font": "Liberation Sans", "fontSize": 23, "color": "black", "align": "center", "baseline": "middle"},
 "encoding": {
  "x": {"datum": 5, "type": "quantitative", "axis": null},
  "y": {"field": "v", "type": "quantitative", "axis": null},
  "text": {"field": "label"}
 }
},
{
 "data": {"name": "thresh"},
 "transform": [{"filter": "datum.ch === 'HEX'"}],
 "mark": {"type": "point", "shape": "M-1,-0.2044L1,-0.2044L1,0.2044L-1,0.2044Z", "filled": true, "fill": "white", "stroke": "black", "strokeWidth": 1.5, "size": 18769, "opacity": 1},
 "encoding": {
  "x": {"datum": 5, "type": "quantitative", "axis": null},
  "y": {"field": "v", "type": "quantitative", "axis": null}
 }
},
{
 "data": {"name": "thresh"},
 "transform": [{"filter": "datum.ch === 'HEX'"}],
 "mark": {"type": "text", "font": "Liberation Sans", "fontSize": 23, "color": "black", "align": "center", "baseline": "middle"},
 "encoding": {
  "x": {"datum": 5, "type": "quantitative", "axis": null},
  "y": {"field": "v", "type": "quantitative", "axis": null},
  "text": {"field": "label"}
 }
}
]
}
